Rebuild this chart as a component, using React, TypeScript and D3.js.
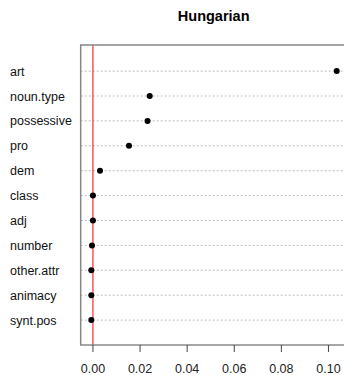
import React from "react";
import * as d3 from "d3";

const categories = ["art", "noun.type", "possessive", "pro", "dem", "class", "adj", "number", "other.attr", "animacy", "synt.pos"];
const values = [0.1035, 0.0241, 0.0232, 0.0153, 0.003, 0.0, 0.0, -0.0004, -0.0007, -0.0007, -0.0007];
const xTicks = [0, 0.02, 0.04, 0.06, 0.08, 0.1];
const title = "Hungarian";

export default function App() {
  const W = 344, H = 375;
  const left = 80.7, right = 346.6, top = 45, bottom = 345;
  const x = d3.scaleLinear().domain([-0.0052, 0.1077]).range([left, right]);
  const n = categories.length;
  // rows: first category at top, y index n..1
  const y = d3.scaleLinear().domain([0, n + 1]).range([bottom, top + 1.2]);
  const font = "'Liberation Sans', Arial, sans-serif";
  return (
    <svg width={W} height={H} style={{ position: "absolute", left: 0, top: 0 }}>
      <rect width={W} height={H} fill="#fff" />
      <text x={(left + right) / 2} y={21} textAnchor="middle" fontFamily={font} fontWeight="bold" fontSize={14.5} fill="#000">{title}</text>
      {categories.map((c, i) => {
        const yy = y(n - i);
        return (
          <g key={c}>
            <line x1={left} x2={right} y1={yy} y2={yy} stroke="#bbb" strokeWidth={1} strokeDasharray="2,2" />
            <text x={10} y={yy + 4.5} fontFamily={font} fontSize={12.5} fill="#111">{c}</text>
          </g>
        );
      })}
      <line x1={x(0)} x2={x(0)} y1={top} y2={bottom} stroke="#ff0000" strokeWidth={1} />
      {categories.map((c, i) => (
        <circle key={c} cx={x(values[i])} cy={y(n - i)} r={3} fill="#000" />
      ))}
      <rect x={left} y={top} width={right - left} height={bottom - top} fill="none" stroke="#888" strokeWidth={1.5} />
      {xTicks.map(t => (
        <g key={t}>
          <line x1={x(t)} x2={x(t)} y1={bottom} y2={bottom + 7} stroke="#444" strokeWidth={1} />
          <text x={x(t)} y={373} textAnchor="middle" fontFamily={font} fontSize={12.5} fill="#222">{t.toFixed(2)}</text>
        </g>
      ))}
    </svg>
  );
}
